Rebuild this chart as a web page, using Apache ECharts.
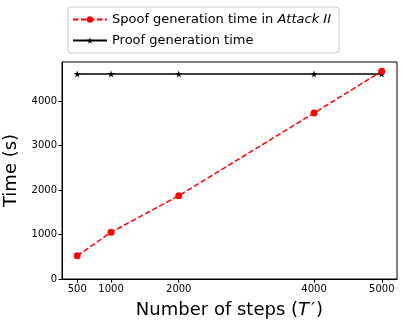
<!DOCTYPE html>
<html>
<head>
<meta charset="UTF-8">
<title></title>
<script src="https://cdn.jsdelivr.net/npm/echarts@6/dist/echarts.min.js"></script>
<style>
html, body { margin: 0; padding: 0; background: #fff; }
#main { width: 403px; height: 330px; }
</style>
</head>
<body>
<div id="main"></div>
<script>
// data
var steps = [500, 1000, 2000, 4000, 5000];
var spoofTime = [520, 1050, 1870, 3730, 4670];
var proofTime = [4610, 4610, 4610, 4610, 4610];
var xTicks = [500, 1000, 2000, 4000, 5000];
var yTicks = [0, 1000, 2000, 3000, 4000];

var star = 'path://M50,0 L61,35 L98,35 L68,57 L79,91 L50,70 L21,91 L32,57 L2,35 L39,35 Z';
var font = 'DejaVu Sans';

function pairs(xs, ys) {
	var out = [];
	for (var i = 0; i < xs.length; i++) out.push([xs[i], ys[i]]);
	return out;
}
function plain(v) { return String(v); }

var myChart = echarts.init(document.getElementById('main'));
var option = {
	animation: false,
	backgroundColor: '#fff',
	grid: {
		left: 62, right: 6, top: 62, bottom: 51,
		containLabel: false, outerBoundsMode: 'none',
		show: true, borderColor: '#000', borderWidth: 1
	},
	legend: {
		orient: 'vertical',
		left: 68, top: 7,
		padding: [6, 8, 6, 4],
		itemGap: 8,
		itemWidth: 34, itemHeight: 8,
		borderColor: '#ccc', borderWidth: 1, borderRadius: 3,
		textStyle: {
			fontFamily: font, fontSize: 13, color: '#000',
			rich: {
				n: { fontFamily: font, fontSize: 13, color: '#000' },
				i: { fontFamily: font, fontSize: 13, color: '#000', fontStyle: 'italic' }
			}
		},
		formatter: function (name) {
			if (name.indexOf('Spoof') === 0) return '{n|Spoof generation time in }{i|Attack II}';
			return '{n|' + name + '}';
		},
		data: ['Spoof generation time in Attack II', 'Proof generation time']
	},
	xAxis: {
		type: 'value',
		min: 275, max: 5225,
		name: '{a|Number of steps (}{b|T}{p|′}{a|)}',
		nameLocation: 'middle',
		nameGap: 22,
		nameTextStyle: {
			rich: {
				a: { fontFamily: font, fontSize: 18, color: '#000' },
				b: { fontFamily: font, fontSize: 18, color: '#000', fontStyle: 'italic' },
				p: { fontFamily: font, fontSize: 18, color: '#000', padding: [0, 1, 0, 2] }
			}
		},
		axisLine: { show: true, lineStyle: { color: '#000', width: 1 } },
		axisTick: { show: true, length: 3.5, lineStyle: { color: '#000' }, customValues: xTicks },
		axisLabel: { fontFamily: font, fontSize: 10, color: '#000', margin: 5, customValues: xTicks, formatter: plain },
		splitLine: { show: false }
	},
	yAxis: {
		type: 'value',
		min: 0, max: 4877,
		name: 'Time (s)',
		nameLocation: 'middle',
		nameRotate: 90,
		nameGap: 34,
		nameTextStyle: { fontFamily: font, fontSize: 18, color: '#000' },
		axisLine: { show: true, lineStyle: { color: '#000', width: 1 } },
		axisTick: { show: true, length: 3.5, lineStyle: { color: '#000' }, customValues: yTicks },
		axisLabel: { fontFamily: font, fontSize: 10, color: '#000', margin: 5, customValues: yTicks, formatter: plain },
		splitLine: { show: false }
	},
	series: [{
		name: 'Spoof generation time in Attack II',
		type: 'line',
		data: pairs(steps, spoofTime),
		symbol: 'circle',
		symbolSize: 7,
		itemStyle: { color: '#ff0000' },
		lineStyle: { color: '#ff0000', width: 1.5, type: [5.5, 2.5] },
		z: 3
	}, {
		name: 'Proof generation time',
		type: 'line',
		data: pairs(steps, proofTime),
		symbol: star,
		symbolSize: 7,
		itemStyle: { color: '#000' },
		lineStyle: { color: '#000', width: 1.5 },
		z: 2
	}]
};
myChart.setOption(option);
</script>
</body>
</html>
